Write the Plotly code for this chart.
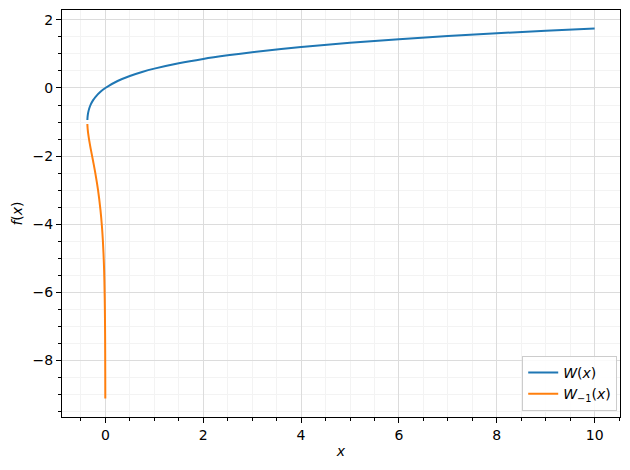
import plotly.graph_objects as go

# Principal branch W(x)
w0_x = [-0.3672, -0.366, -0.364, -0.36, -0.35, -0.33, -0.3, -0.25, -0.2, -0.1, 0.0,
        0.25, 0.5, 0.75, 1.0, 1.5, 2.0, 2.5, 3.0, 4.0, 5.0, 6.0, 7.0, 8.0, 9.0, 10.0]
w0_y = [-0.94, -0.902, -0.861, -0.806, -0.717, -0.603, -0.489, -0.357, -0.259, -0.112, 0.0,
        0.204, 0.352, 0.469, 0.567, 0.726, 0.853, 0.958, 1.050, 1.202, 1.327, 1.432,
        1.524, 1.606, 1.679, 1.746]

# Lower branch W_{-1}(x)
wm1_x = [-0.3672, -0.366, -0.364, -0.36, -0.35, -0.33, -0.3, -0.25, -0.2, -0.15, -0.1,
         -0.07, -0.05, -0.03, -0.02, -0.01, -0.005, -0.002, -0.001]
wm1_y = [-1.06, -1.105, -1.153, -1.222, -1.35, -1.54, -1.781, -2.153, -2.542, -2.99, -3.577,
         -4.06, -4.50, -5.14, -5.64, -6.47, -7.28, -8.33, -9.12]

names = ["<i>W</i>(<i>x</i>)", "<i>W</i><sub>−1</sub>(<i>x</i>)"]

fig = go.Figure()
fig.add_trace(go.Scatter(x=w0_x, y=w0_y, mode="lines", name=names[0],
                         line=dict(color="#1f77b4", width=2, shape="spline")))
fig.add_trace(go.Scatter(x=wm1_x, y=wm1_y, mode="lines", name=names[1],
                         line=dict(color="#ff7f0e", width=2, shape="spline")))

axis_common = dict(
    showline=True, linecolor="black", linewidth=1, mirror=True,
    ticks="outside", ticklen=5, tickwidth=1, tickcolor="black",
    showgrid=True, gridcolor="#dcdcdc", gridwidth=1, zeroline=False,
    tickfont=dict(family="DejaVu Sans", size=14, color="black"),
    automargin=False,
)

fig.update_xaxes(
    range=[-0.886, 10.518], dtick=2, tick0=0,
    minor=dict(dtick=0.5, ticks="outside", ticklen=3, tickcolor="black",
               showgrid=True, gridcolor="#f3f3f3"),
    title=dict(text="<i>x</i>", font=dict(family="DejaVu Sans", size=14), standoff=4),
    **axis_common)
fig.update_yaxes(
    range=[-9.66, 2.289], dtick=2, tick0=0,
    minor=dict(dtick=0.5, ticks="outside", ticklen=3, tickcolor="black",
               showgrid=True, gridcolor="#f3f3f3"),
    title=dict(text="<i>f</i>(<i>x</i>)", font=dict(family="DejaVu Sans", size=14), standoff=6),
    **axis_common)

fig.update_layout(
    width=630, height=470,
    margin=dict(l=54, r=18, t=2, b=61),
    plot_bgcolor="white", paper_bgcolor="white",
    font=dict(family="DejaVu Sans", size=14, color="black"),
    legend=dict(x=0.995, y=0.015, xanchor="right", yanchor="bottom",
                bgcolor="rgba(255,255,255,0.85)", bordercolor="#cccccc", borderwidth=1,
                font=dict(family="DejaVu Sans", size=14)),
)

fig.write_html("out.html")
